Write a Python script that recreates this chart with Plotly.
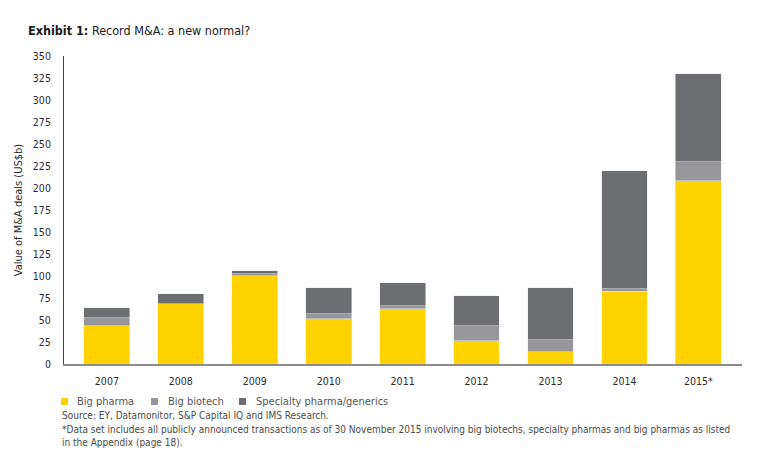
import plotly.graph_objects as go

years = ["2007", "2008", "2009", "2010", "2011", "2012", "2013", "2014", "2015*"]
big_pharma = [43.5, 68.5, 100.3, 51.5, 62.8, 26.5, 14.0, 82.5, 208.3]
big_biotech = [9.0, 0.0, 2.3, 5.7, 3.5, 17.0, 13.6, 3.0, 21.7]
specialty = [11.5, 11.5, 3.4, 29.5, 26.1, 34.1, 59.1, 134.2, 100.0]
series_names = ["Big pharma", "Big biotech", "Specialty pharma/generics"]
series_colors = ["#FFD200", "#96969B", "#6D6E71"]

ticks = [0, 25, 50, 75, 100, 125, 150, 175, 200, 225, 250, 275, 300, 325, 350]

FONT = "DejaVu Sans Condensed, Liberation Sans Narrow, Arial Narrow, sans-serif"
TXT = "#2b2b2b"

# page offset (body margin) compensation
O = 8
FW, FH = 763 - O, 456 - O
# plot area in reference pixels
L, R, T, B = 64, 742, 56, 364
W, H = R - L, B - T

def px(x):
    return (x - L) / W

def py(y):
    return (B - y) / H

fig = go.Figure()
for vals, name, col in zip([big_pharma, big_biotech, specialty], series_names, series_colors):
    fig.add_trace(go.Bar(x=years, y=vals, name=name, marker_color=col, width=0.62))

fig.update_layout(
    width=FW, height=FH,
    barmode="stack",
    plot_bgcolor="white", paper_bgcolor="white",
    margin=dict(l=L - O, r=763 - R, t=T - O, b=456 - B, autoexpand=False),
    font=dict(family=FONT, size=10.5, color=TXT),
    showlegend=False,
    xaxis=dict(range=[-0.58, 8.59], showline=True, linecolor="#8c8c8c", linewidth=2,
               ticks="", tickfont=dict(size=10.5, color=TXT), showgrid=False,
               ticklabelstandoff=6),
    yaxis=dict(range=[0, 350], tickvals=ticks, showline=True, linecolor="#444444", linewidth=1,
               ticks="", showgrid=False, zeroline=False, tickfont=dict(size=10.5, color=TXT),
               ticklabelstandoff=10,
               title=dict(text="Value of M&A deals (US$b)", font=dict(size=11, color=TXT), standoff=8)),
)

fig.add_annotation(xref="paper", yref="paper", x=px(26), y=py(31), xanchor="left", yanchor="middle",
                   text="<b>Exhibit 1:</b> Record M&A: a new normal?", showarrow=False,
                   font=dict(family=FONT, size=12.5, color="#1a1a1a"))

# legend
leg_sq_x = [61, 151, 239]
leg_txt_x = [75, 166, 254]
for name, col, sx, tx in zip(series_names, series_colors, leg_sq_x, leg_txt_x):
    fig.add_shape(type="rect", xref="paper", yref="paper",
                  x0=px(sx), x1=px(sx + 7), y0=py(405), y1=py(398),
                  fillcolor=col, line_width=0)
    fig.add_annotation(xref="paper", yref="paper", x=px(tx), y=py(401.5), xanchor="left",
                       yanchor="middle", text=name, showarrow=False,
                       font=dict(family=FONT, size=11, color="#555555"))

notes = [
    ("Source: EY, Datamonitor, S&P Capital IQ and IMS Research.", 415),
    ("*Data set includes all publicly announced transactions as of 30 November 2015 involving big biotechs, specialty pharmas and big pharmas as listed", 430),
    ("in the Appendix (page 18).", 442.5),
]
for text, ypx in notes:
    fig.add_annotation(xref="paper", yref="paper", x=px(60), y=py(ypx),
                       xanchor="left", yanchor="middle", text=text, showarrow=False,
                       font=dict(family=FONT, size=10.0, color="#4a4a4a"))

fig.write_html("out.html")
